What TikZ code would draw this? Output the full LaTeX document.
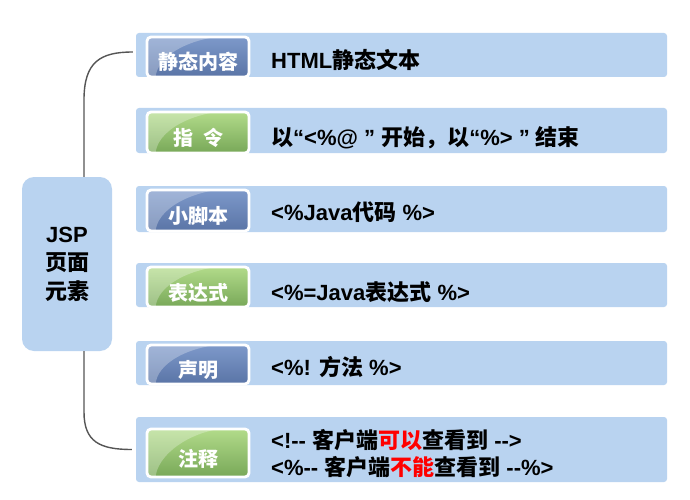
\documentclass[tikz,border=0pt]{standalone}
\usepackage{fontspec}
\setmainfont{Liberation Sans}
\newfontfamily\cjk{Noto Sans CJK SC}
\newcommand\zh[1]{{\cjk #1}}
\definecolor{barblue}{HTML}{B9D3F0}
\definecolor{bTop}{HTML}{7D99CA}
\definecolor{bBot}{HTML}{5A74A6}
\definecolor{gTop}{HTML}{B2DB8A}
\definecolor{gBot}{HTML}{78A858}
\definecolor{conncol}{HTML}{555555}
\definecolor{redtxt}{HTML}{FF0000}
\newcommand\gloss[1]{%
  \begin{scope}
    \clip[rounded corners=3pt] ([shift={(1.3pt,1.3pt)}]#1.south west) rectangle ([shift={(-1.3pt,-1.3pt)}]#1.north east);
    \fill[white,opacity=0.28] (#1.south west) -- (#1.north west) -- ([xshift=-14pt]#1.north east)
      .. controls ([xshift=-60pt]#1.north east) and ([shift={(10pt,22pt)}]#1.south west) .. ([xshift=10pt]#1.south west) -- cycle;
  \end{scope}}
\begin{document}
\begin{tikzpicture}[x=1pt,y=-1pt,
  bar/.style={fill=barblue, rounded corners=3pt, inner sep=0pt, minimum width=531pt},
  badgebox/.style={draw=white, line width=2.8pt, rounded corners=4pt, inner sep=0pt, minimum width=102pt},
  bluebadge/.style={badgebox, top color=bTop, bottom color=bBot},
  greenbadge/.style={badgebox, top color=gTop, bottom color=gBot},
  badgelabel/.style={text=white, font=\bfseries\fontsize{20}{22}\selectfont, inner sep=0pt},
  rowtext/.style={anchor=base west, font=\bfseries\fontsize{22}{27}\selectfont, inner sep=0pt, align=left},
  jspbox/.style={fill=barblue, rounded corners=12pt, minimum width=90pt, minimum height=174pt, inner sep=0pt,
     align=center, font=\bfseries\fontsize{22}{28.5}\selectfont},
  conn/.style={draw=conncol, line width=1.4pt}
]
\useasboundingbox (0,0) rectangle (690,500);
\fill[white] (0,0) rectangle (690,500);

% bars
\node[bar, minimum height=44pt] (bar1) at (401.5,55) {};
\node[bar, minimum height=45pt] (bar2) at (401.5,130.5) {};
\node[bar, minimum height=46pt] (bar3) at (401.5,209) {};
\node[bar, minimum height=44pt] (bar4) at (401.5,285) {};
\node[bar, minimum height=44pt] (bar5) at (401.5,363) {};
\node[bar, minimum height=65pt] (bar6) at (401.5,449.5) {};

% badges
\node[bluebadge, minimum height=40pt] (badge1) at (198,57) {};
\gloss{badge1}
\node[greenbadge, minimum height=41pt] (badge2) at (198,132.5) {};
\gloss{badge2}
\node[bluebadge, minimum height=41pt] (badge3) at (198,210.5) {};
\gloss{badge3}
\node[greenbadge, minimum height=40pt] (badge4) at (198,287) {};
\gloss{badge4}
\node[bluebadge, minimum height=39pt] (badge5) at (198,364.5) {};
\gloss{badge5}
\node[greenbadge, minimum height=48pt] (badge6) at (198,453) {};
\gloss{badge6}

\node[badgelabel] (lab1) at (198,62) {\zh{静态内容}};
\node[badgelabel] (lab2) at (198,138) {\zh{指\hspace{10pt}令}};
\node[badgelabel] (lab3) at (198,216) {\zh{小脚本}};
\node[badgelabel] (lab4) at (198,293) {\zh{表达式}};
\node[badgelabel] (lab5) at (198,370) {\zh{声明}};
\node[badgelabel] (lab6) at (198,459) {\zh{注释}};

% row texts
\node[rowtext] (t1) at (271,69) {HTML\zh{静态文本}};
\node[rowtext] (t2) at (271,145) {\zh{以}“<\%@ ” \zh{开始，以}“\%> ” \zh{结束}};
\node[rowtext] (t3) at (271,220) {<\%Java\zh{代码} \%>};
\node[rowtext] (t4) at (271,300) {<\%=Java\zh{表达式} \%>};
\node[rowtext] (t5) at (271,375) {<\%! \zh{方法} \%>};
\node[rowtext] (t6a) at (271,448) {<!{-}{-} \zh{客户端}\textcolor{redtxt}{\zh{可以}}\zh{查看到} {-}{-}>};
\node[rowtext] (t6b) at (271,475) {<\%{-}{-} \zh{客户端}\textcolor{redtxt}{\zh{不能}}\zh{查看到} {-}{-}\%>};

% JSP node
\node[jspbox] (jsp) at (67,264) {JSP\\\zh{页面}\\\zh{元素}};

% connectors
\draw[conn] ([xshift=17pt]jsp.north) -- (84,100)
   .. controls (84,62) and (100,52) .. ([shift={(-3pt,3pt)}]bar1.west);
\draw[conn] ([xshift=17pt]jsp.south) -- (84,412)
   .. controls (84,442) and (100,449.5) .. ([xshift=-4pt]bar6.west);
\end{tikzpicture}
\end{document}
